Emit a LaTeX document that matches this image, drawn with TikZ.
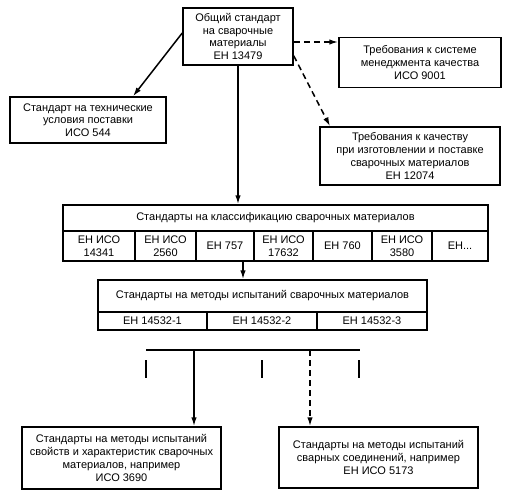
\documentclass[tikz,border=0pt]{standalone}
\usepackage{fontspec}
\setmainfont{Liberation Sans}
\usepackage{tikz}
\usetikzlibrary{
  arrows.meta,
  calc
}
\tikzset{
  every node/.style={font=\fontsize{11}{12.7}\selectfont},
  box/.style={draw,line width=1.5pt,align=center,inner sep=1pt},
  cell/.style={box,minimum height=30pt},
  testcell/.style={box,minimum height=18pt},
  arr/.style={line width=1.5pt,-{Latex[length=9pt,width=5.5pt]}},
  darr/.style={arr,dash pattern=on 6pt off 4pt},
  tick/.style={line width=1.8pt},
}

\begin{document}
\begin{tikzpicture}[x=1pt,y=-1pt]
\useasboundingbox (0,0) rectangle (509,498);
% top level
\node[box,minimum width=110pt,minimum height=57pt] (general) at (238,36.5)
  {Общий стандарт\\на сварочные\\материалы\\ЕН 13479};
\node[box,minimum width=162pt,minimum height=50pt] (qms) at (420,62.5)
  {Требования к системе\\менеджмента качества\\ИСО 9001};
\node[box,minimum width=156pt,minimum height=46pt] (delivery) at (88,120)
  {Стандарт на технические\\условия поставки\\ИСО 544};
\node[box,minimum width=180pt,minimum height=58pt] (quality) at (410,156)
  {Требования к качеству\\при изготовлении и поставке\\сварочных материалов\\ЕН 12074};
% classification
\node[box,minimum width=425pt,minimum height=26pt] (classhead) at (275.5,218)
  {Стандарты на классификацию сварочных материалов};
\foreach \n/\xa/\xb/\t in {c1/63/135/{ЕН ИСО\\14341},c2/135/196/{ЕН ИСО\\2560},
    c3/196/254/{ЕН 757},c4/254/313/{ЕН ИСО\\17632},c5/313/372/{ЕН 760},
    c6/372/432/{ЕН ИСО\\3580},c7/432/488/{ЕН...}}
  \node[cell,minimum width={(\xb-\xa)*1pt}] (\n) at ({(\xa+\xb)/2},246) {\t};
% test methods
\node[box,minimum width=329pt,minimum height=32pt] (testhead) at (262.5,296)
  {Стандарты на методы испытаний сварочных материалов};
\foreach \n/\xa/\xb/\t in {t1/98/207/{ЕН 14532-1},t2/207/317/{ЕН 14532-2},
    t3/317/427/{ЕН 14532-3}}
  \node[testcell,minimum width={(\xb-\xa)*1pt}] (\n) at ({(\xa+\xb)/2},321) {\t};
% bottom
\node[box,minimum width=199pt,minimum height=62pt] (props) at (121.5,458)
  {Стандарты на методы испытаний\\свойств и характеристик сварочных\\материалов, например\\ИСО 3690};
\node[box,minimum width=199pt,minimum height=61pt] (joints) at (378.5,457.5)
  {Стандарты на методы испытаний\\сварных соединений, например\\ЕН ИСО 5173};
\coordinate (busl) at (146,350);
\coordinate (busr) at (360,350);
\coordinate (busa) at (194,350);
\coordinate (busb) at (310,350);

% connectors
\draw[arr] ([yshift=3.5pt]general.west) -- ([xshift=45pt]delivery.north);
\draw[darr] ([yshift=-5.5pt]general.east) -- ([yshift=-5.5pt]general.east -| qms.west);
\draw[darr] ([yshift=10pt]general.south east) -- ([xshift=-80pt]quality.north);
\draw[arr] (general.south) -- (general.south |- classhead.north);
\draw[arr] ([xshift=18pt]c3.south) -- ([xshift=18pt]c3.south |- testhead.north);
\draw[line width=1.5pt] (busl) -- (busr);
\draw[arr] (busa) -- (busa |- props.north);
\draw[darr] (busb) -- (busb |- joints.north);
\foreach \x in {146,262,359}
  \draw[tick] (\x,360) -- (\x,378);
\end{tikzpicture}
\end{document}
